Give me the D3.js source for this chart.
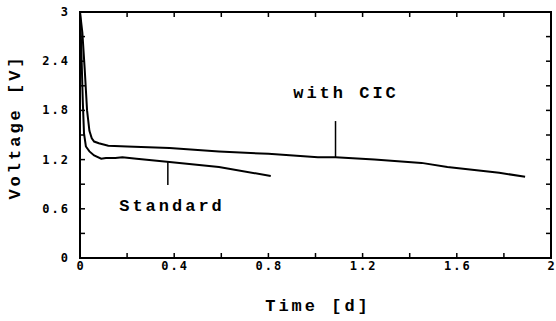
<!DOCTYPE html>
<html>
<head>
<meta charset="utf-8">
<script src="https://cdn.jsdelivr.net/npm/d3@7"></script>
<style>
body { margin: 0; background: #fff; }
.tick-label { font-family: "DejaVu Sans Mono", monospace; font-weight: bold; font-size: 12px; letter-spacing: 2px; }
.title { font-family: "Liberation Mono", monospace; font-weight: bold; font-size: 17px; letter-spacing: 3px; }
</style>
</head>
<body>
<script>
// data
var timeCIC = [0, 0.01, 0.02, 0.03, 0.04, 0.05, 0.06, 0.08, 0.12, 0.2, 0.38, 0.59, 0.8, 1.01, 1.085, 1.25, 1.45, 1.56, 1.78, 1.89];
var voltCIC = [3.0, 2.75, 2.3, 1.8, 1.55, 1.46, 1.42, 1.40, 1.37, 1.36, 1.34, 1.30, 1.27, 1.23, 1.23, 1.20, 1.16, 1.11, 1.04, 0.99];
var timeStd = [0, 0.005, 0.012, 0.017, 0.025, 0.04, 0.06, 0.09, 0.11, 0.15, 0.18, 0.24, 0.38, 0.59, 0.81];
var voltStd = [3.0, 2.6, 1.9, 1.52, 1.36, 1.3, 1.25, 1.21, 1.22, 1.22, 1.23, 1.21, 1.17, 1.11, 1.00];
var xTickLabels = [0, 0.4, 0.8, 1.2, 1.6, 2];
var yTickLabels = [0, 0.6, 1.2, 1.8, 2.4, 3];

var width = 556, height = 321;
var x0 = 80, x1 = 551, y0 = 258, y1 = 12;

var svg = d3.select("body").append("svg")
    .attr("width", width)
    .attr("height", height);

var x = d3.scaleLinear().domain([0, 2]).range([x0, x1]);
var y = d3.scaleLinear().domain([0, 3]).range([y0, y1]);

//рамка
svg.append("rect")
    .attr("x", x0).attr("y", y1)
    .attr("width", x1 - x0).attr("height", y0 - y1)
    .attr("fill", "none").attr("stroke", "black").attr("stroke-width", 2);

// ticks inward on all four sides
var xMinor = d3.range(1, 10).map(function(i) { return i * 0.2; });
var yMinor = d3.range(1, 10).map(function(i) { return i * 0.3; });
var tk = 5;

xMinor.forEach(function(t) {
    svg.append("line").attr("x1", x(t)).attr("x2", x(t)).attr("y1", y0).attr("y2", y0 - tk)
        .attr("stroke", "black").attr("stroke-width", 1.5);
    svg.append("line").attr("x1", x(t)).attr("x2", x(t)).attr("y1", y1).attr("y2", y1 + tk)
        .attr("stroke", "black").attr("stroke-width", 1.5);
});
yMinor.forEach(function(t) {
    svg.append("line").attr("x1", x0).attr("x2", x0 + tk).attr("y1", y(t)).attr("y2", y(t))
        .attr("stroke", "black").attr("stroke-width", 1.5);
    svg.append("line").attr("x1", x1).attr("x2", x1 - tk).attr("y1", y(t)).attr("y2", y(t))
        .attr("stroke", "black").attr("stroke-width", 1.5);
});

// tick labels
svg.selectAll(".xl").data(xTickLabels).enter().append("text")
    .attr("class", "tick-label")
    .attr("x", function(d) { return x(d) + 1; })
    .attr("y", 270)
    .attr("text-anchor", "middle")
    .text(function(d) { return d; });

svg.selectAll(".yl").data(yTickLabels).enter().append("text")
    .attr("class", "tick-label")
    .attr("x", 70)
    .attr("y", function(d) { return y(d) + 4; })
    .attr("text-anchor", "end")
    .text(function(d) { return d; });

// axis titles
svg.append("text").attr("class", "title")
    .attr("x", 318).attr("y", 311)
    .attr("text-anchor", "middle")
    .text("Time [d]");

svg.append("text").attr("class", "title")
    .attr("transform", "translate(20,127) rotate(-90)")
    .attr("text-anchor", "middle")
    .text("Voltage [V]");

// curves
var line = d3.line()
    .x(function(d) { return x(d[0]); })
    .y(function(d) { return y(d[1]); });

svg.append("path")
    .attr("d", line(d3.zip(timeCIC, voltCIC)))
    .attr("fill", "none").attr("stroke", "black").attr("stroke-width", 2);
svg.append("path")
    .attr("d", line(d3.zip(timeStd, voltStd)))
    .attr("fill", "none").attr("stroke", "black").attr("stroke-width", 2);

// pointers and labels
svg.append("line")
    .attr("x1", x(1.085)).attr("x2", x(1.085))
    .attr("y1", y(1.23)).attr("y2", y(1.67))
    .attr("stroke", "black").attr("stroke-width", 1.5);
svg.append("text").attr("class", "title")
    .attr("x", 346).attr("y", 98)
    .attr("text-anchor", "middle")
    .text("with CIC");

svg.append("line")
    .attr("x1", x(0.373)).attr("x2", x(0.373))
    .attr("y1", y(1.17)).attr("y2", y(0.89))
    .attr("stroke", "black").attr("stroke-width", 1.5);
svg.append("text").attr("class", "title")
    .attr("x", 172).attr("y", 211)
    .attr("text-anchor", "middle")
    .text("Standard");
</script>
</body>
</html>
